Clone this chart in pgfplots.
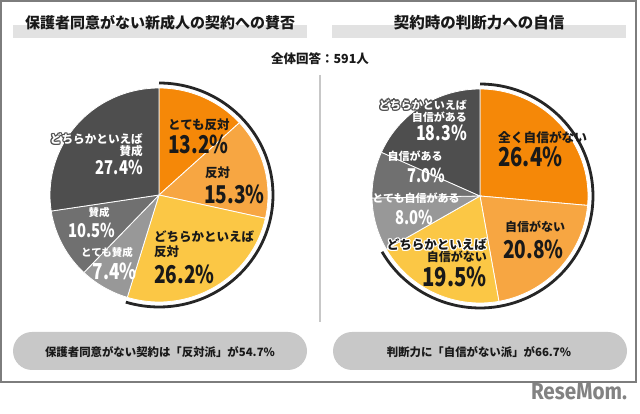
\documentclass[border=0pt]{standalone}
\usepackage{pgfplots}
\pgfplotsset{compat=1.18}
\usepackage{fontspec}
\setmainfont{Noto Sans CJK JP}
\newfontfamily\logofont{Fira Sans}

\definecolor{c1}{RGB}{245,136,8}
\definecolor{c2}{RGB}{247,166,66}
\definecolor{c3}{RGB}{251,199,69}
\definecolor{g1}{RGB}{152,152,152}
\definecolor{g2}{RGB}{112,112,112}
\definecolor{g3}{RGB}{78,78,78}
\definecolor{txt}{RGB}{25,25,25}
\definecolor{bar}{RGB}{226,226,226}
\definecolor{pill}{RGB}{200,200,200}
\definecolor{frame}{RGB}{125,125,125}
\definecolor{logo}{RGB}{130,130,130}

\newcommand\fs[1]{\fontsize{#1}{#1}\selectfont\bfseries}
\newcommand\pct[2]{{\fontsize{#1}{#1}\selectfont\bfseries\scalebox{0.78}[1]{#2}}}

% pie slice: cx, cy, rx, ry, value (percent), colour
\newcommand\pieslice[6]{%
  \pgfmathsetmacro\pend{\pstart+#5}%
  \pgfmathsetmacro\aS{90-3.6*\pend}%
  \pgfmathsetmacro\aE{90-3.6*\pstart}%
  \edef\tmp{\noexpand\addplot[fill=#6, draw=white, line width=0.8pt, domain=\aS:\aE, samples=60]}%
  \tmp ({#1+#3*cos(x)},{#2-#4*sin(x)}) -- (axis cs:#1,#2) -- cycle;
  \global\let\pstart\pend}
% outer black arc: cx, cy, rx, ry, share (percent)
\newcommand\piearc[5]{%
  \pgfmathsetmacro\aS{90-3.6*(#5)}%
  \edef\tmp{\noexpand\addplot[draw=black!85, line width=2.8pt, domain=\aS:90, samples=90]}%
  \tmp ({#1+#3*cos(x)},{#2-#4*sin(x)});}

% haloed text: anchor, x, y, halo colour, text colour, content
\newcommand\halo[6]{%
  \foreach \a in {0,45,...,315}{\node[anchor=#1, inner sep=0, text=#4] at ([shift={(\a:1.2pt)}]#2,#3) {#6};}
  \node[anchor=#1, inner sep=0, text=#5] at (#2,#3) {#6};}

\begin{document}
\begin{tikzpicture}
\begin{axis}[scale only axis, width=640pt, height=414pt,
  xmin=0, xmax=640, ymin=0, ymax=414, y dir=reverse,
  hide axis, clip=false]
% left pie: 保護者同意がない新成人の契約への賛否
\gdef\pstart{0}
\pieslice{159}{195}{109}{107}{13.2}{c1}
\pieslice{159}{195}{109}{107}{15.3}{c2}
\pieslice{159}{195}{109}{107}{26.2}{c3}
\pieslice{159}{195}{109}{107}{7.4}{g1}
\pieslice{159}{195}{109}{107}{10.5}{g2}
\pieslice{159}{195}{109}{107}{27.4}{g3}
\piearc{159}{195}{114}{112}{13.2+15.3+26.2}
% right pie: 契約時の判断力への自信
\gdef\pstart{0}
\pieslice{480}{196}{108}{107}{26.4}{c1}
\pieslice{480}{196}{108}{107}{20.8}{c2}
\pieslice{480}{196}{108}{107}{19.5}{c3}
\pieslice{480}{196}{108}{107}{8.0}{g1}
\pieslice{480}{196}{108}{107}{7.0}{g2}
\pieslice{480}{196}{108}{107}{18.3}{g3}
\piearc{480}{196}{113}{112}{26.4+20.8+19.5}
\end{axis}

\begin{scope}[x=1pt, y=-1pt, shift={(0pt,414pt)}]
% frame
\draw[frame, line width=1.2pt] (1,1) rectangle (636,382);
% titles
\fill[bar] (13,25) rectangle (307,38);
\fill[bar] (332,25) rectangle (626,38);
\node[inner sep=0, text=txt] at (160,23) {\fs{15}保護者同意がない新成人の契約への賛否};
\node[inner sep=0, text=txt] at (479,23) {\fs{15.5}契約時の判断力への自信};
\node[inner sep=0, text=txt] at (320,59) {\fs{12.5}全体回答：591人};
% divider
\draw[black!22, line width=1.5pt] (320,75) -- (320,322);
% pills
\fill[pill, rounded corners=19pt] (13,332) rectangle (307,370);
\fill[pill, rounded corners=19pt] (333,332) rectangle (627,370);
\node[inner sep=0, text=txt] at (160,352) {\fs{11.4}保護者同意がない契約は「反対派」が54.7\%};
\node[inner sep=0, text=txt] at (479,352) {\fs{11.4}判断力に「自信がない派」が66.7\%};
% logo
\node[inner sep=0, text=logo] at (579,392) {\resizebox{96pt}{16pt}{\logofont\bfseries ReseMom.}};

% left pie labels
\node[anchor=west, inner sep=0, text=txt] at (168,125) {\fs{12.5}とても反対};
\node[anchor=west, inner sep=0, text=txt] at (168,144) {\pct{24.5}{13.2\%}};
\node[anchor=west, inner sep=0, text=txt] at (205,173) {\fs{12.5}反対};
\node[anchor=west, inner sep=0, text=txt] at (204,194) {\pct{24.5}{15.3\%}};
\node[anchor=west, inner sep=0, text=txt] at (154,237) {\fs{12.5}どちらかといえば};
\node[anchor=west, inner sep=0, text=txt] at (154,252) {\fs{12.5}反対};
\node[anchor=west, inner sep=0, text=txt] at (154,274) {\pct{24.5}{26.2\%}};
\node[anchor=east, inner sep=0, text=white] at (133,253) {\fs{10.5}とても賛成};
\node[anchor=east, inner sep=0, text=white] at (137,271) {\pct{22}{7.4\%}};
\node[inner sep=0, text=white] at (99,213) {\fs{10.5}賛成};
\node[inner sep=0, text=white] at (92,230) {\pct{19}{10.5\%}};
\halo{east}{143}{139}{g3}{white}{\fs{11.6}どちらかといえば}
\node[anchor=east, inner sep=0, text=white] at (143,151) {\fs{11.6}賛成};
\node[anchor=east, inner sep=0, text=white] at (143,167) {\pct{19}{27.4\%}};

% right pie labels
\node[anchor=west, inner sep=0, text=txt] at (498,138) {\fs{12.7}全く自信がない};
\node[anchor=west, inner sep=0, text=txt] at (498,157) {\pct{26}{26.4\%}};
\node[anchor=west, inner sep=0, text=txt] at (505,227) {\fs{12}自信がない};
\node[anchor=west, inner sep=0, text=txt] at (503,249) {\pct{24.5}{20.8\%}};
\halo{east}{487}{245}{white}{txt}{\fs{12.5}どちらかといえば}
\node[anchor=east, inner sep=0, text=txt] at (487,257) {\fs{12}自信がない};
\node[anchor=east, inner sep=0, text=txt] at (487,277) {\pct{26}{19.5\%}};
\node[inner sep=0, text=white] at (416,198) {\fs{11}とても自信がある};
\node[inner sep=0, text=white] at (414,217) {\pct{19}{8.0\%}};
\node[inner sep=0, text=white] at (415,156) {\fs{11}自信がある};
\node[inner sep=0, text=white] at (426,175) {\pct{19}{7.0\%}};
\halo{east}{467}{105}{g3}{white}{\fs{11}どちらかといえば}
\node[anchor=east, inner sep=0, text=white] at (467,117) {\fs{11}自信がある};
\node[anchor=east, inner sep=0, text=white] at (467,133) {\pct{20.5}{18.3\%}};
\end{scope}
\pgfresetboundingbox
\path (0,0) rectangle (640pt,414pt);
\end{tikzpicture}
\end{document}
